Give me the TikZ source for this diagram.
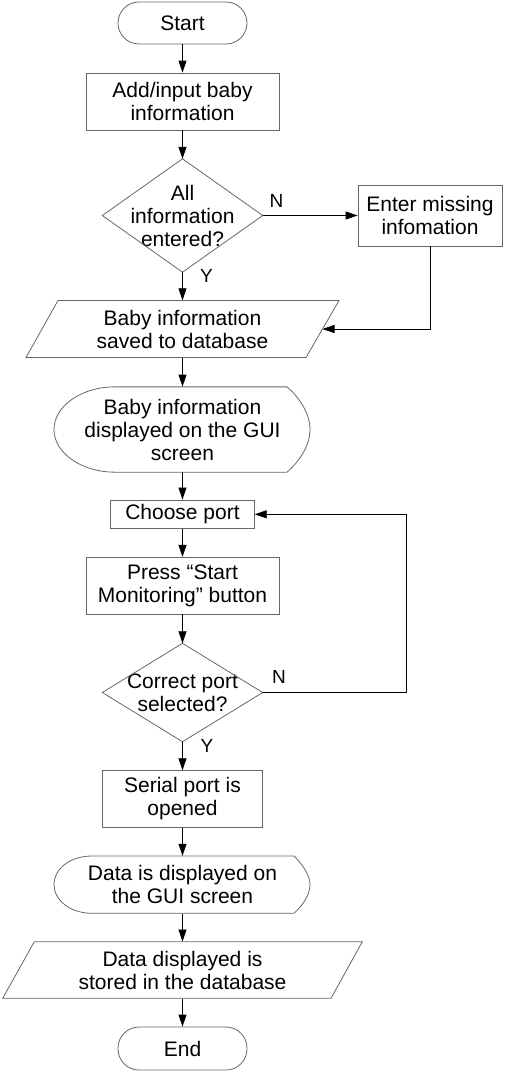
\documentclass[tikz,border=0pt]{standalone}
\usepackage{fontspec}
\setmainfont{Liberation Sans}
\usetikzlibrary{arrows.meta}
\begin{document}
\begin{tikzpicture}[x=1pt,y=-1pt,
  lbl/.style={font=\fontsize{21}{23}\selectfont, align=center, inner sep=0pt, rectangle},
  box/.style={lbl, draw=black!60, line width=0.8pt},
  term/.style={box, rounded corners=21pt},
  outline/.style={draw=black!60, line width=0.8pt},
  arr/.style={draw=black, line width=0.8pt, -{Triangle[length=12pt,width=8pt]}},
  yn/.style={font=\fontsize{19}{21}\selectfont, inner sep=0pt}]
\useasboundingbox (0,0) rectangle (506,1074);

% terminals and boxes
\node[term, minimum width=129pt, minimum height=42pt] (start) at (182.5,23) {Start};
\node[box, minimum width=193pt, minimum height=57pt] (add) at (182.5,101.5) {Add/input baby\\information};
\node[lbl, minimum width=160pt, minimum height=113pt] (d1) at (182.5,215.5) {All\\information\\entered?};
\draw[outline] (d1.north) -- (d1.east) -- (d1.south) -- (d1.west) -- cycle;
\node[box, minimum width=144pt, minimum height=61pt] (enter) at (430,215.5) {Enter missing\\infomation};

% parallelogram 1
\draw[outline] (58,300.5) -- (339,300.5) -- (306,357.5) -- (26,357.5) -- cycle;
\node[lbl, minimum width=313pt, minimum height=57pt] (p1) at (182.5,329) {Baby information\\saved to database};
\coordinate (p1r) at (322.5,329);

% display 1
\draw[outline] (115,386.85) -- (287,386.85)
  .. controls (300,398) and (310,414) .. (310,429.5)
  .. controls (310,445) and (300,461) .. (287,472.15)
  -- (115,472.15)
  .. controls (81.4,472.15) and (54,453) .. (54,429.5)
  .. controls (54,406) and (81.4,386.85) .. (115,386.85) -- cycle;
\node[lbl, minimum width=256pt, minimum height=85.3pt] (disp1) at (182.5,429.5) {Baby information\\displayed on the GUI\\screen};

\node[box, minimum width=143.6pt, minimum height=28.7pt] (choose) at (182.5,514.3) {Choose port};
\node[box, minimum width=193pt, minimum height=56.7pt] (press) at (182.5,585.7) {Press “Start\\Monitoring” button};
\node[lbl, minimum width=160pt, minimum height=98pt] (d2) at (182.5,692.5) {Correct port\\selected?};
\draw[outline] (d2.north) -- (d2.east) -- (d2.south) -- (d2.west) -- cycle;
\node[box, minimum width=159.6pt, minimum height=56.6pt] (serial) at (182.5,799) {Serial port is\\opened};

% display 2
\draw[outline] (92,856) -- (294,856)
  .. controls (304,866) and (310,876) .. (310,884.65)
  .. controls (310,894) and (304,904) .. (294,913.3)
  -- (92,913.3)
  .. controls (70,913.3) and (54,900) .. (54,884.65)
  .. controls (54,869) and (70,856) .. (92,856) -- cycle;
\node[lbl, minimum width=256pt, minimum height=57.3pt] (disp2) at (182.5,884.65) {Data is displayed on\\the GUI screen};

% parallelogram 2
\draw[outline] (34.3,941.7) -- (362.3,941.7) -- (331,998.3) -- (2.7,998.3) -- cycle;
\node[lbl, minimum width=359pt, minimum height=56.6pt] (p2) at (182.5,970) {Data displayed is\\stored in the database};

\node[term, minimum width=129pt, minimum height=43pt] (end) at (182.5,1048.5) {End};

% connectors
\draw[arr] (start) -- (add);
\draw[arr] (add) -- (d1.north);
\draw[arr] (d1.south) -- (p1.north);
\draw[arr] (d1.east) -- (enter.west);
\draw[arr] (enter.south) |- (p1r);
\draw[arr] (p1.south) -- (disp1.north);
\draw[arr] (disp1.south) -- (choose.north);
\draw[arr] (choose) -- (press);
\draw[arr] (press.south) -- (d2.north);
\coordinate (loop) at (406,514.3);
\draw[arr] (d2.east) -| (loop) -- (choose.east);
\draw[arr] (d2.south) -- (serial.north);
\draw[arr] (serial.south) -- (disp2.north);
\draw[arr] (disp2.south) -- (p2.north);
\draw[arr] (p2.south) -- (end.north);

% labels
\node[yn] (n1) at (276.5,200.5) {N};
\node[yn] (y1) at (206.5,275.5) {Y};
\node[yn] (n2) at (279,677) {N};
\node[yn] (y2) at (207,746) {Y};
\end{tikzpicture}
\end{document}
